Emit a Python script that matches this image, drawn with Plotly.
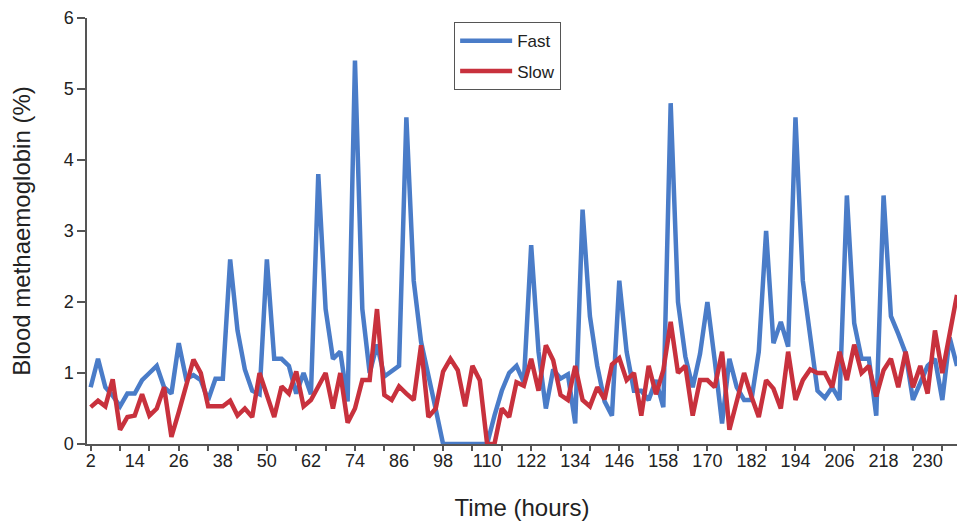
import plotly.graph_objects as go

hours = list(range(2, 239, 2))

fast = [0.8, 1.2, 0.8, 0.68, 0.53, 0.71, 0.71, 0.9, 1.0, 1.1,
        0.8, 0.71, 1.42, 0.92, 0.97, 0.9, 0.62, 0.92, 0.92, 2.6,
        1.6, 1.05, 0.75, 0.7, 2.6, 1.2, 1.2, 1.1, 0.71, 1.0,
        0.7, 3.8, 1.9, 1.2, 1.3, 0.6, 5.4, 1.9, 1.0, 1.4,
        0.95, 1.02, 1.1, 4.6, 2.3, 1.44, 0.99, 0.49, 0.0, 0.0,
        0.0, 0.0, 0.0, 0.0, 0.0, 0.4, 0.75, 1.0, 1.1, 0.87,
        2.8, 1.3, 0.5, 1.05, 0.92, 0.98, 0.29, 3.3, 1.8, 1.1,
        0.6, 0.4, 2.3, 1.3, 0.75, 0.75, 0.62, 0.9, 0.52, 4.8,
        2.0, 1.23, 0.8, 1.27, 2.0, 1.18, 0.29, 1.2, 0.8, 0.62,
        0.62, 1.3, 3.0, 1.42, 1.72, 1.37, 4.6, 2.3, 1.5, 0.75,
        0.65, 0.8, 0.62, 3.5, 1.7, 1.2, 1.2, 0.4, 3.5, 1.8,
        1.55, 1.28, 0.62, 0.85, 1.1, 1.2, 0.62, 1.5, 1.1]

slow = [0.52, 0.61, 0.53, 0.91, 0.2, 0.38, 0.4, 0.7, 0.4, 0.5,
        0.8, 0.1, 0.45, 0.8, 1.19, 1.0, 0.53, 0.53, 0.53, 0.61,
        0.4, 0.5, 0.38, 1.0, 0.7, 0.38, 0.81, 0.71, 1.02, 0.53,
        0.62, 0.8, 1.0, 0.5, 1.0, 0.3, 0.5, 0.9, 0.9, 1.9,
        0.69, 0.62, 0.81, 0.71, 0.62, 1.39, 0.38, 0.5, 1.02, 1.2,
        1.04, 0.53, 1.1, 0.9, 0.0, 0.0, 0.5, 0.38, 0.87, 0.82,
        1.2, 0.75, 1.39, 1.18, 0.69, 0.62, 1.1, 0.62, 0.53, 0.8,
        0.63, 1.12, 1.21, 0.9, 1.0, 0.4, 1.1, 0.7, 1.04, 1.72,
        1.0, 1.1, 0.4, 0.9, 0.9, 0.8, 1.3, 0.2, 0.62, 1.0,
        0.67, 0.38, 0.9, 0.78, 0.5, 1.3, 0.62, 0.9, 1.05, 1.0,
        1.0, 0.8, 1.3, 0.9, 1.4, 1.0, 1.1, 0.67, 1.04, 1.2,
        0.8, 1.3, 0.8, 1.1, 0.71, 1.6, 1.0, 1.55, 2.1]

x_labels = list(range(2, 231, 12))
y_ticks = [0, 1, 2, 3, 4, 5, 6]

FONT = "Liberation Sans, Arial, sans-serif"
AXIS_COLOR = "#555555"
TEXT_COLOR = "#222222"

fig = go.Figure()
fig.add_trace(go.Scatter(x=hours, y=fast, mode="lines", name="Fast",
                         legendgroup="fast",
                         line=dict(color="#4a7cc8", width=4.5),
                         cliponaxis=False))
fig.add_trace(go.Scatter(x=hours, y=slow, mode="lines", name="Slow",
                         legendgroup="slow",
                         line=dict(color="#c8313d", width=4.5),
                         cliponaxis=False))

fig.update_layout(
    width=957, height=521,
    margin=dict(l=87, r=0, t=18, b=77),
    paper_bgcolor="white", plot_bgcolor="white",
    font=dict(family=FONT, color=TEXT_COLOR, size=18),
    showlegend=True,
    legend=dict(x=0.422, y=0.99, xanchor="left", yanchor="top",
                bgcolor="white", bordercolor="#555555", borderwidth=1,
                font=dict(size=17, family=FONT, color=TEXT_COLOR),
                tracegroupgap=5, itemwidth=52),
    xaxis=dict(range=[1, 238.0], tickmode="array", tickvals=x_labels,
               ticktext=[str(v) for v in x_labels], ticks="",
               showline=True, linecolor=AXIS_COLOR, linewidth=1.5,
               showgrid=False, zeroline=False,
               tickfont=dict(size=18, family=FONT, color=TEXT_COLOR),
               minor=dict(tickmode="linear", tick0=2, dtick=8,
                          ticks="outside", ticklen=5, tickwidth=1.5,
                          tickcolor=AXIS_COLOR, showgrid=False),
               title=dict(text="Time (hours)", standoff=29,
                          font=dict(size=24, family=FONT, color=TEXT_COLOR))),
    yaxis=dict(range=[0, 6], tickmode="array", tickvals=y_ticks,
               ticks="outside", ticklen=8, tickwidth=1.5, tickcolor=AXIS_COLOR,
               showline=True, linecolor=AXIS_COLOR, linewidth=1.5,
               showgrid=False, zeroline=False,
               tickfont=dict(size=18, family=FONT, color=TEXT_COLOR),
               title=dict(text="Blood methaemoglobin (%)", standoff=26,
                          font=dict(size=24, family=FONT, color=TEXT_COLOR))),
)

fig.write_html("out.html")
